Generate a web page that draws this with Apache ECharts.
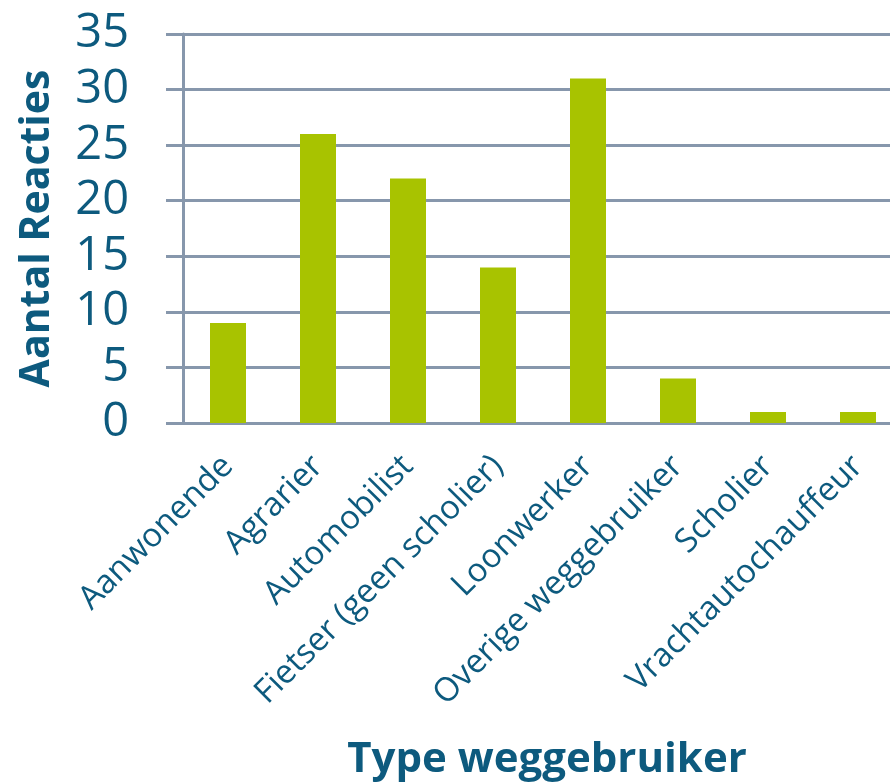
<!DOCTYPE html>
<html lang="nl">
<head>
	<meta charset="UTF-8">
	<title>Aantal reacties per type weggebruiker</title>
	<script src="https://cdn.jsdelivr.net/npm/echarts@6/dist/echarts.min.js"></script>
	<style>
		html, body { margin: 0; padding: 0; background: #fff; }
		#chart { width: 890px; height: 784px; }
	</style>
</head>
<body>
<div id="chart"></div>
<script>
    // categorieen en aantallen
    var categories = ['Aanwonende', 'Agrarier', 'Automobilist', 'Fietser (geen scholier)',
        'Loonwerker', 'Overige weggebruiker', 'Scholier', 'Vrachtautochauffeur'];
    var reacties = [9, 26, 22, 14, 31, 4, 1, 1];
    var yTicks = [0, 5, 10, 15, 20, 25, 30, 35];

    var textColor = '#0d5a7e';
    var lineColor = '#8797ac';
    var font = '"Open Sans", "Noto Sans", sans-serif';

    var myChart = echarts.init(document.getElementById('chart'));
    var option = {
        animation: false,
        grid: {
            left: 183,
            right: -13,
            top: 34,
            bottom: 361,
            outerBoundsMode: 'none'
        },
        xAxis: {
            type: 'category',
            data: categories,
            name: 'Type weggebruiker',
            nameLocation: 'middle',
            nameGap: 316,
            nameTextStyle: {
                color: textColor,
                fontFamily: font,
                fontWeight: 'bold',
                fontSize: 42,
                padding: [0, 0, 0, 8]
            },
            axisLine: { lineStyle: { color: lineColor, width: 3 } },
            axisTick: { length: 10, lineStyle: { color: lineColor, width: 2 } },
            axisLabel: {
                interval: 0,
                rotate: 45,
                margin: 38,
                color: textColor,
                fontFamily: font,
                fontSize: 33
            }
        },
        yAxis: {
            type: 'value',
            min: yTicks[0],
            max: yTicks[yTicks.length - 1],
            interval: 5,
            name: 'Aantal Reacties',
            nameLocation: 'middle',
            nameGap: 125,
            nameTextStyle: {
                color: textColor,
                fontFamily: font,
                fontWeight: 'bold',
                fontSize: 41
            },
            axisLine: { show: true, lineStyle: { color: lineColor, width: 3 } },
            axisTick: { show: true, inside: false, length: 17, lineStyle: { color: lineColor, width: 3 } },
            splitLine: { lineStyle: { color: lineColor, width: 3 } },
            axisLabel: {
                margin: 54,
                color: textColor,
                fontFamily: font,
                fontSize: 47
            }
        },
        series: [{
            type: 'bar',
            data: reacties,
            barWidth: '40%',
            itemStyle: { color: '#a8c300' }
        }]
    };
    myChart.setOption(option);
</script>
</body>
</html>
